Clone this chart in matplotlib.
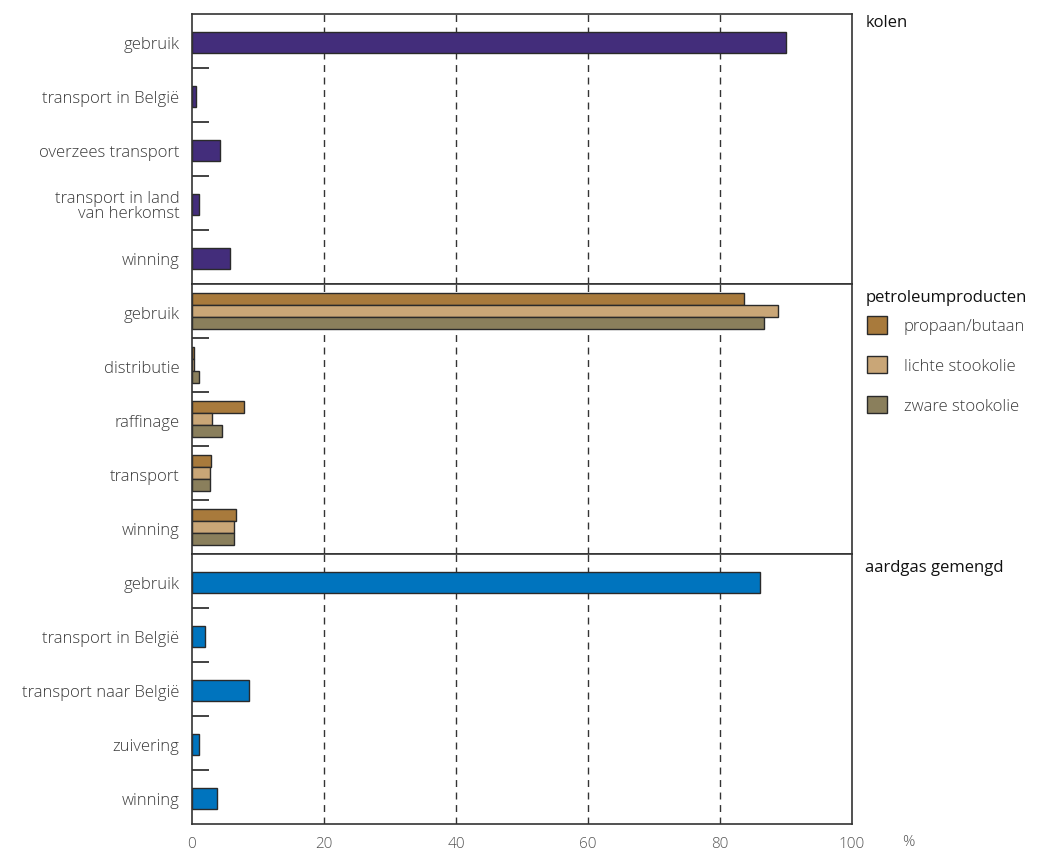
import matplotlib.pyplot as plt
from matplotlib.patches import Patch
import numpy as np

plt.rcParams['font.family'] = ['Open Sans', 'DejaVu Sans']

# data (percent)
kolen_cats = ['gebruik', 'transport in België', 'overzees transport',
              'transport in land\nvan herkomst', 'winning']
kolen_vals = [90.0, 0.6, 4.2, 1.0, 5.7]

petro_cats = ['gebruik', 'distributie', 'raffinage', 'transport', 'winning']
propaan = [83.6, 0.35, 7.9, 2.9, 6.6]
lichte = [88.8, 0.3, 3.1, 2.75, 6.3]
zware = [86.7, 1.0, 4.6, 2.75, 6.3]
petro_series = ['propaan/butaan', 'lichte stookolie', 'zware stookolie']

gas_cats = ['gebruik', 'transport in België', 'transport naar België',
            'zuivering', 'winning']
gas_vals = [86.0, 2.0, 8.6, 1.0, 3.8]

xticks = [0, 20, 40, 60, 80, 100]

c_kolen = '#432d7b'
c_petro = ['#a87a3c', '#c9a677', '#8a7f5c']
c_gas = '#0074be'
edge = '#2a2a2a'
txt = '#3a3a3a'

fig = plt.figure(figsize=(10.43, 8.53), dpi=100)
left, right = 192 / 1043, 852 / 1043
top, bottom = 1 - 15 / 853, 1 - 825 / 853
h = (top - bottom) / 3
axes = [fig.add_axes([left, top - (i + 1) * h, right - left, h]) for i in range(3)]


def style(ax, cats):
    n = len(cats)
    ax.set_xlim(0, 100)
    ax.set_ylim(n - 0.5, -0.5)
    ax.set_yticks(np.arange(n) + 0.02)
    ax.set_yticklabels(cats, fontsize=12, color=txt, linespacing=0.95,
                       fontweight='light')
    ax.tick_params(axis='y', which='major', length=0, pad=9)
    ax.set_yticks(np.arange(0.5, n - 1, 1), minor=True)
    ax.tick_params(axis='y', which='minor', direction='in', length=12,
                   width=1.2, color='#222222')
    for x in xticks[1:-1]:
        ax.axvline(x, color='#333333', lw=1, ls=(0, (5, 4)), zorder=0)
    for s in ax.spines.values():
        s.set_linewidth(1.2)
        s.set_color('#333333')
    ax.set_xticks([])


ax = axes[0]
ax.barh(np.arange(5) + 0.03, kolen_vals, height=0.4, color=c_kolen,
        edgecolor=edge, lw=1, zorder=2)
style(ax, kolen_cats)

ax = axes[1]
bh = 0.22
for k, vals in enumerate([propaan, lichte, zware]):
    ax.barh(np.arange(5) + (k - 1) * bh, vals, height=bh, color=c_petro[k],
            edgecolor=edge, lw=1, zorder=2)
style(ax, petro_cats)

ax = axes[2]
ax.barh(np.arange(5) + 0.03, gas_vals, height=0.4, color=c_gas,
        edgecolor=edge, lw=1, zorder=2)
style(ax, gas_cats)
ax.set_xticks(xticks)
ax.set_xticklabels([str(x) for x in xticks], fontsize=11, color='#555555',
                   fontweight='light')
ax.tick_params(axis='x', length=0, pad=9)

# panel titles
for ax, title, yy in zip(axes, ['kolen', 'petroleumproducten', 'aardgas gemengd'],
                         [0.97, 0.952, 0.952]):
    ax.text(1.02, yy, title, transform=ax.transAxes, fontsize=12,
            color='#111111', ha='left', va='center')

handles = [Patch(facecolor=c, edgecolor=edge, lw=1) for c in c_petro]
axes[1].legend(handles, petro_series, loc='upper left', bbox_to_anchor=(1.0, 0.937),
               frameon=False, handlelength=1.2, handleheight=1.25,
               labelspacing=1.28, handletextpad=1.0, labelcolor=txt,
               prop={'weight': 'light', 'size': 12})

fig.text(908 / 1043, 1 - 843 / 853, '%', fontsize=11, color='#555555',
         ha='center', va='center', fontweight='light')

fig.savefig('out.png', dpi=100)
